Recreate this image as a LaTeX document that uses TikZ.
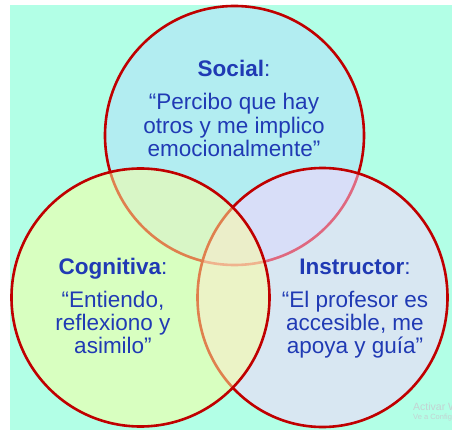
\documentclass[tikz,border=0pt]{standalone}
\usepackage{fontspec}
\setmainfont{Liberation Sans}
\usetikzlibrary{shapes.geometric}
\definecolor{mint}{RGB}{178,255,230}
\definecolor{ringred}{RGB}{192,0,0}
\definecolor{socialfill}{RGB}{178,221,252}
\definecolor{cogfill}{RGB}{255,255,156}
\definecolor{instfill}{RGB}{254,209,255}
\definecolor{txtblue}{RGB}{32,58,180}
\definecolor{wmgray}{RGB}{195,210,210}
\begin{document}
\begin{tikzpicture}[x=1pt,y=-1pt,
  ring/.style={draw=ringred,line width=2.6pt,inner sep=0pt,outer sep=0pt},
  txt/.style={anchor=base,text=txtblue,inner sep=0pt,
    font=\fontsize{22.5}{23.3}\selectfont},
  wm/.style={anchor=base west,inner sep=0pt,text=wmgray},
]
\useasboundingbox (0,0) rectangle (452,430);
\fill[white] (0,0) rectangle (452,430);
\fill[mint] (10,5) rectangle (452,430);
\node[ring,circle,minimum size=259pt,fill=socialfill,fill opacity=.5] (socialc) at (234.5,135.5) {};
\node[ring,ellipse,minimum width=250pt,minimum height=259pt,fill=instfill,fill opacity=.5] (instc) at (322.5,297.5) {};
\node[ring,circle,minimum size=258pt,fill=cogfill,fill opacity=.5] (cogc) at (140.5,297.5) {};
% Social
\node[txt] (socialt) at (234,77) {\textbf{Social}:};
\node[txt] (socialq1) at (234,110) {“Percibo que hay};
\node[txt] (socialq2) at (234,133.3) {otros y me implico};
\node[txt] (socialq3) at (234,156.6) {emocionalmente”};
% Cognitiva
\node[txt] (cogt) at (113,274) {\textbf{Cognitiva}:};
\node[txt] (cogq1) at (113,307) {“Entiendo,};
\node[txt] (cogq2) at (113,330.3) {reflexiono y};
\node[txt] (cogq3) at (113,353.6) {asimilo”};
% Instructor
\node[txt] (instt) at (355,274) {\textbf{Instructor}:};
\node[txt] (instq1) at (355,307) {“El profesor es};
\node[txt] (instq2) at (355,330.3) {accesible, me};
\node[txt] (instq3) at (355,353.6) {apoya y guía”};
\begin{scope}
\clip (0,0) rectangle (452,430);
\node[wm,font=\fontsize{10.5}{12}\selectfont] (wm1) at (413,410) {Activar Windows};
\node[wm,font=\fontsize{7.5}{9}\selectfont] (wm2) at (413,419) {Ve a Configuración};
\end{scope}
\end{tikzpicture}
\end{document}
